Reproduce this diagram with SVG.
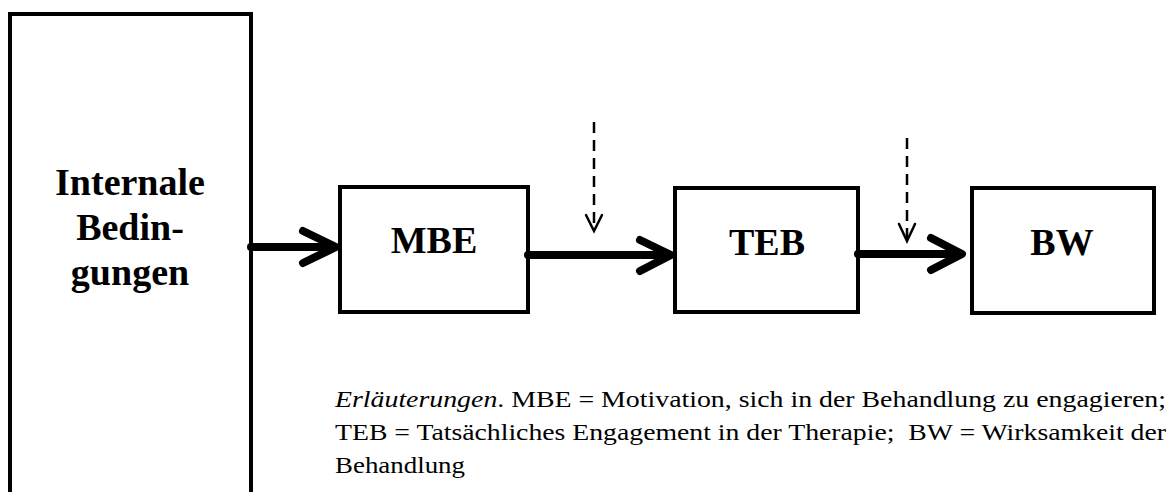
<svg xmlns="http://www.w3.org/2000/svg" width="1173" height="492" viewBox="0 0 1173 492">
<style>
.box{fill:#fff;stroke:#000;stroke-width:4}
.lbl{font-family:"Liberation Serif","Times New Roman",serif;font-weight:bold;font-size:38px;fill:#000;text-anchor:middle}
.flow{fill:none;stroke:#000;stroke-width:8;stroke-linecap:round;stroke-linejoin:round}
.dash{fill:none;stroke:#000;stroke-width:2.5;stroke-dasharray:11 7}
.head{fill:none;stroke:#000;stroke-width:2.5;stroke-linecap:round;stroke-linejoin:miter}
.note{font-family:"Liberation Serif","Times New Roman",serif;font-size:23px;fill:#000}
</style>
<rect width="1173" height="492" fill="#fff"/>
<g id="internal">
<path d="M10,500 V14 H251 V500" fill="none" stroke="#000" stroke-width="4"/>
<text class="lbl" x="130" y="195">Internale</text>
<text class="lbl" x="130" y="240">Bedin-</text>
<text class="lbl" x="130" y="285">gungen</text>
</g>
<g id="mbe">
<rect class="box" x="340" y="187" width="188" height="125"/>
<text class="lbl" x="434" y="253">MBE</text>
</g>
<g id="teb">
<rect class="box" x="675" y="188" width="183" height="124"/>
<text class="lbl" x="767" y="255">TEB</text>
</g>
<g id="bw">
<rect class="box" x="972" y="188" width="182" height="125"/>
<text class="lbl" x="1062" y="255">BW</text>
</g>
<g id="connectors">
<path class="flow" d="M251,247 H334"/>
<path class="flow" d="M303,231 L336,247 L303,263"/>
<path class="flow" d="M528,255 H669"/>
<path class="flow" d="M640,240 L671,255 L640,271"/>
<path class="flow" d="M858,254 H960"/>
<path class="flow" d="M931,238 L962,254 L931,270"/>
<path class="dash" d="M594,122 V230"/>
<path class="head" d="M586,215 L594,231 L602,215"/>
<path class="dash" d="M907,138 V240"/>
<path class="head" d="M899,224 L907,241 L915,224"/>
</g>
<g id="legend">
<text class="note" x="335" y="407" textLength="831" lengthAdjust="spacingAndGlyphs"><tspan font-style="italic">Erläuterungen</tspan>. MBE = Motivation, sich in der Behandlung zu engagieren;</text>
<text class="note" x="335" y="440" textLength="831" lengthAdjust="spacingAndGlyphs" xml:space="preserve">TEB = Tatsächliches Engagement in der Therapie;  BW = Wirksamkeit der</text>
<text class="note" x="335" y="473" textLength="130" lengthAdjust="spacingAndGlyphs">Behandlung</text>
</g>
</svg>
